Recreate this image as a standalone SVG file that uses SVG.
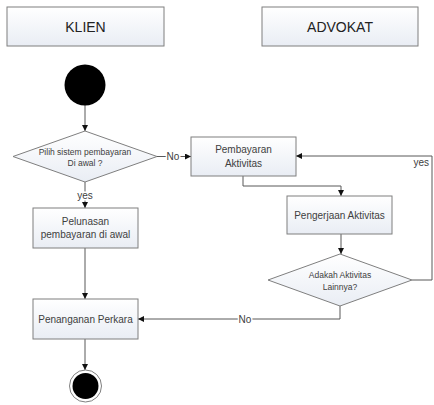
<svg xmlns="http://www.w3.org/2000/svg" width="434" height="405" viewBox="0 0 434 405">
  <style>
    .box { stroke: #7f7f7f; stroke-width: 1; fill: url(#boxFill); }
    .dia { stroke: #7f7f7f; stroke-width: 1; fill: url(#boxFill); }
    .t { font-family: "Liberation Sans", Arial, sans-serif; fill: #404040; text-anchor: middle; }
    .title { font-size: 14px; fill: #222; }
    .act { font-size: 10px; }
    .small { font-size: 8.5px; }
    .edge { fill: none; stroke: #595959; stroke-width: 1; }
    .lbl { font-family: "Liberation Sans", Arial, sans-serif; font-size: 10px; fill: #404040; text-anchor: middle; paint-order: stroke; stroke: #fff; stroke-width: 3px; }
  </style>
  <defs>
    <linearGradient id="boxFill" x1="0" y1="0" x2="0" y2="1">
      <stop offset="0" stop-color="#ffffff"/>
      <stop offset="1" stop-color="#e9edf4"/>
    </linearGradient>
    <marker id="arrow" viewBox="0 0 10 10" refX="10" refY="5" markerWidth="6" markerHeight="6" orient="auto" markerUnits="userSpaceOnUse">
      <path d="M0,0 L10,5 L0,10 z" fill="#111"/>
    </marker>
  </defs>

  <rect width="434" height="405" fill="#fff"/>

  <!-- swimlane headers -->
  <g id="lane-klien">
    <rect class="box" x="7" y="7" width="157" height="39"/>
    <text class="t title" x="85.5" y="31.5">KLIEN</text>
  </g>
  <g id="lane-advokat">
    <rect class="box" x="262" y="7" width="156" height="39"/>
    <text class="t title" x="340" y="31.5">ADVOKAT</text>
  </g>

  <!-- connectors -->
  <g id="connectors">
    <path class="edge" d="M85,105 V131" marker-end="url(#arrow)"/>
    <path class="edge" d="M85,182 V208" marker-end="url(#arrow)"/>
    <path class="edge" d="M157,156.5 H191" marker-end="url(#arrow)"/>
    <path class="edge" d="M85,248 V299" marker-end="url(#arrow)"/>
    <path class="edge" d="M243,176 V186 H341 V196" marker-end="url(#arrow)"/>
    <path class="edge" d="M341,234 V254" marker-end="url(#arrow)"/>
    <path class="edge" d="M412,280 H432 V156 H296" marker-end="url(#arrow)"/>
    <path class="edge" d="M340,306 V319 H138" marker-end="url(#arrow)"/>
    <path class="edge" d="M85,339 V370" marker-end="url(#arrow)"/>
    <text class="lbl" x="85" y="199">yes</text>
    <text class="lbl" x="173" y="160">No</text>
    <text class="lbl" x="245" y="322.5">No</text>
    <text class="lbl" x="429" y="166" text-anchor="end" style="text-anchor:end">yes</text>
  </g>

  <!-- nodes -->
  <g id="start">
    <circle cx="85" cy="85" r="20.5" fill="#000"/>
  </g>

  <g id="decision-payment">
    <polygon class="dia" points="85,131 157,156.5 85,182 13,156.5"/>
    <text class="t small" x="85" y="155">Pilih sistem pembayaran</text>
    <text class="t small" x="85" y="166">Di awal ?</text>
  </g>

  <g id="pelunasan">
    <rect class="box" x="33" y="208" width="105" height="40"/>
    <text class="t act" x="85.5" y="225">Pelunasan</text>
    <text class="t act" x="85.5" y="238">pembayaran di awal</text>
  </g>

  <g id="pembayaran-aktivitas">
    <rect class="box" x="191" y="137" width="105" height="39"/>
    <text class="t act" x="243.5" y="152.5">Pembayaran</text>
    <text class="t act" x="243.5" y="167">Aktivitas</text>
  </g>

  <g id="pengerjaan-aktivitas">
    <rect class="box" x="287" y="196" width="105" height="38"/>
    <text class="t act" x="339.5" y="218.5">Pengerjaan Aktivitas</text>
  </g>

  <g id="decision-more">
    <polygon class="dia" points="340,254 412,280 340,306 268,280"/>
    <text class="t small" x="340" y="278">Adakah Aktivitas</text>
    <text class="t small" x="340" y="289.5">Lainnya?</text>
  </g>

  <g id="penanganan-perkara">
    <rect class="box" x="33" y="299" width="105" height="40"/>
    <text class="t act" x="85.5" y="322.5">Penanganan Perkara</text>
  </g>

  <g id="end">
    <circle cx="85.5" cy="386" r="16" fill="#fff" stroke="#7f7f7f" stroke-width="1"/>
    <circle cx="85.5" cy="386" r="13" fill="#000"/>
  </g>
</svg>
